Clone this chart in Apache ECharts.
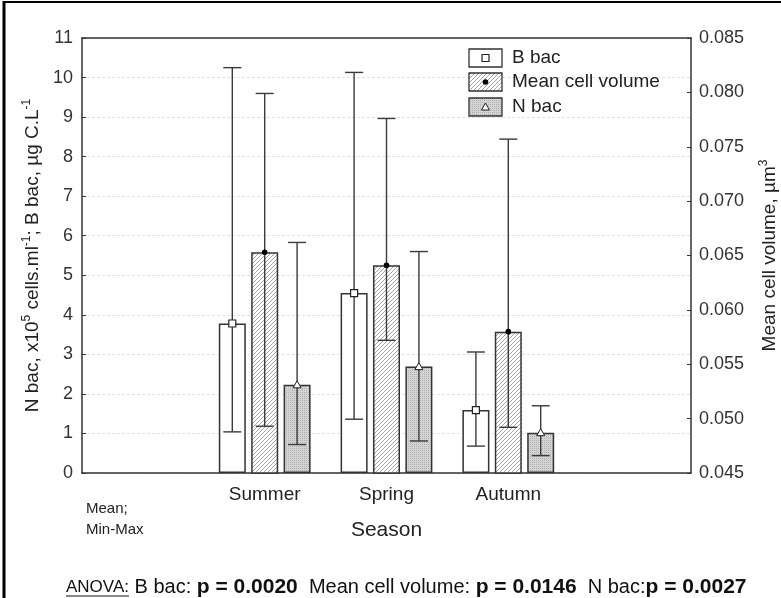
<!DOCTYPE html>
<html>
<head>
<meta charset="utf-8">
<script src="https://cdn.jsdelivr.net/npm/echarts@6/dist/echarts.min.js"></script>
<style>
  html, body { margin: 0; padding: 0; background: #fff; }
  #chart { width: 781px; height: 598px; }
</style>
</head>
<body>
<div id="chart"></div>
<script>
// Seasons on the category axis (empty slots pad both ends)
const seasons = ['', 'Summer', 'Spring', 'Autumn', ''];

// Bacterial biomass, µg C/L
const bBacMean = [null, 3.78, 4.55, 1.59, null];
const bBacMin  = [null, 1.04, 1.36, 0.68, null];
const bBacMax  = [null, 10.25, 10.13, 3.06, null];

// Mean cell volume, µm³
const volMean = [null, 0.0653, 0.0641, 0.0580, null];
const volMin  = [null, 0.0493, 0.0572, 0.0492, null];
const volMax  = [null, 0.0799, 0.0776, 0.0757, null];

// Bacterial abundance, x10^5 cells/ml
const nBacMean = [null, 2.23, 2.69, 1.02, null];
const nBacMin  = [null, 0.72, 0.81, 0.44, null];
const nBacMax  = [null, 5.83, 5.60, 1.70, null];

const seriesNames = ['B bac', 'Mean cell volume', 'N bac'];
const anovaP = ['0.0020', '0.0146', '0.0027'];

const FONT = '"Liberation Sans", Arial, sans-serif';
const INK = '#333';

// Fill textures: diagonal hatch and grey stipple
function makePattern(size, painter) {
  const c = document.createElement('canvas');
  c.width = size; c.height = size;
  const ctx = c.getContext('2d');
  const img = ctx.createImageData(size, size);
  for (let y = 0; y < size; y++) {
    for (let x = 0; x < size; x++) {
      const v = painter(x, y);
      const k = (y * size + x) * 4;
      img.data[k] = v; img.data[k + 1] = v; img.data[k + 2] = v; img.data[k + 3] = 255;
    }
  }
  ctx.putImageData(img, 0, 0);
  return c;
}
const hatchCanvas = makePattern(4, (x, y) => ((x + y) % 4 === 3 ? 165 : 255));
const stippleCanvas = makePattern(4, (x, y) => ((x % 2 === 0 && y % 2 === 0) ? 176 : 212));
const hatchFill = { image: hatchCanvas, repeat: 'repeat' };
const stippleFill = { image: stippleCanvas, repeat: 'repeat' };

const BAR_W = 27;
const GAP = 5.4;
const offsets = [-(BAR_W + GAP), 0, BAR_W + GAP];

function markerShape(kind, x, y) {
  if (kind === 'square') {
    return { type: 'rect', shape: { x: x - 3.5, y: y - 3.5, width: 7, height: 7 },
      style: { fill: '#fff', stroke: '#222', lineWidth: 1.2 }, z2: 10 };
  }
  if (kind === 'dot') {
    return { type: 'circle', shape: { cx: x, cy: y, r: 2.8 },
      style: { fill: '#000' }, z2: 10 };
  }
  return { type: 'polygon', shape: { points: [[x, y - 4], [x + 4, y + 3], [x - 4, y + 3]] },
    style: { fill: '#fff', stroke: '#222', lineWidth: 1 }, z2: 10 };
}

function rangeSeries(name, minArr, maxArr, meanArr, yAxisIndex, offset, marker) {
  const data = [];
  seasons.forEach((s, i) => {
    if (meanArr[i] != null) data.push([i, minArr[i], maxArr[i], meanArr[i]]);
  });
  return {
    type: 'custom',
    name: name + ' range',
    yAxisIndex: yAxisIndex,
    z: 5,
    silent: true,
    encode: { x: 0, y: [1, 2, 3] },
    data: data,
    renderItem: function (params, api) {
      const i = api.value(0);
      const lo = api.coord([i, api.value(1)]);
      const hi = api.coord([i, api.value(2)]);
      const mid = api.coord([i, api.value(3)]);
      const x = lo[0] + offset;
      const cap = 9;
      const ls = { stroke: '#3a3a3a', lineWidth: 1.4 };
      return {
        type: 'group',
        children: [
          { type: 'line', shape: { x1: x, y1: hi[1], x2: x, y2: lo[1] }, style: ls },
          { type: 'line', shape: { x1: x - cap, y1: hi[1], x2: x + cap, y2: hi[1] }, style: ls },
          { type: 'line', shape: { x1: x - cap, y1: lo[1], x2: x + cap, y2: lo[1] }, style: ls },
          markerShape(marker, x, mid[1])
        ]
      };
    }
  };
}

const barBorder = { borderColor: INK, borderWidth: 1.5 };

const chart = echarts.init(document.getElementById('chart'), null, { renderer: 'canvas' });

// Text width for the underlined lead-in of the footnote
const measureCtx = document.createElement('canvas').getContext('2d');
measureCtx.font = '17px ' + FONT;
const anovaLabelW = measureCtx.measureText('ANOVA:').width;

const legendX = 469, legendRows = [58, 82, 107];
const legendFills = ['#fff', hatchFill, stippleFill];
const legendMarkers = ['square', 'dot', 'triangle'];
const legendGraphics = [];
seriesNames.forEach((n, k) => {
  const cy = legendRows[k];
  legendGraphics.push({
    type: 'rect', shape: { x: legendX, y: cy - 9, width: 33, height: 18 },
    style: { fill: legendFills[k], stroke: INK, lineWidth: 1.3 }, z: 20
  });
  const m = markerShape(legendMarkers[k], legendX + 16.5, cy);
  m.z = 21;
  legendGraphics.push(m);
  legendGraphics.push({
    type: 'text', x: 512, y: cy, z: 21,
    style: { text: n, font: '19px ' + FONT, fill: '#222', verticalAlign: 'middle' }
  });
});

const option = {
  animation: false,
  backgroundColor: '#fff',
  grid: { left: 82, right: 90, top: 38, bottom: 125, containLabel: false, outerBoundsMode: 'none' },
  xAxis: [
    {
      type: 'category', data: seasons, position: 'bottom',
      name: 'Season', nameLocation: 'middle', nameGap: 47,
      nameTextStyle: { fontFamily: FONT, fontSize: 21, color: '#222' },
      axisLine: { lineStyle: { color: INK, width: 1.5 } },
      axisTick: { inside: true, alignWithLabel: true, length: 4, lineStyle: { color: INK } },
      axisLabel: { interval: 0, fontFamily: FONT, fontSize: 19, color: '#222', margin: 12 },
      splitLine: { show: false }
    },
    {
      type: 'category', data: seasons, position: 'top',
      axisLine: { lineStyle: { color: INK, width: 1.5 } },
      axisTick: { inside: true, alignWithLabel: true, length: 4, lineStyle: { color: INK } },
      axisLabel: { show: false },
      splitLine: { show: false }
    }
  ],
  yAxis: [
    {
      type: 'value', position: 'left', min: 0, max: 11, interval: 1,
      name: '{t|N bac, x10}{s|5}{t| cells.ml}{s|-1}{t|; B bac, µg C.L}{s|-1}',
      nameLocation: 'middle', nameGap: 37, nameRotate: 90,
      nameTextStyle: {
        rich: {
          t: { fontFamily: FONT, fontSize: 19, color: '#222', lineHeight: 24 },
          s: { fontFamily: FONT, fontSize: 12, color: '#222', lineHeight: 12, verticalAlign: 'top' }
        }
      },
      axisLine: { show: true, lineStyle: { color: INK, width: 1.5 } },
      axisTick: { show: true, inside: true, length: 4, lineStyle: { color: INK } },
      axisLabel: { fontFamily: FONT, fontSize: 18, color: INK, margin: 9 },
      splitLine: { show: true, lineStyle: { color: '#e2e2e2', width: 1, type: [3, 2] } }
    },
    {
      type: 'value', position: 'right', min: 0.045, max: 0.085, interval: 0.005,
      name: '{t|Mean cell volume, µm}{s|3}',
      nameLocation: 'middle', nameGap: 67, nameRotate: 90,
      nameTextStyle: {
        rich: {
          t: { fontFamily: FONT, fontSize: 19, color: '#222', lineHeight: 24 },
          s: { fontFamily: FONT, fontSize: 12, color: '#222', lineHeight: 12, verticalAlign: 'top' }
        }
      },
      axisLine: { show: true, lineStyle: { color: INK, width: 1.5 } },
      axisTick: { show: true, inside: true, length: 4, lineStyle: { color: INK } },
      axisLabel: { fontFamily: FONT, fontSize: 18, color: INK, margin: 8,
        formatter: v => v.toFixed(3) },
      splitLine: { show: false }
    }
  ],
  series: [
    {
      type: 'bar', name: seriesNames[0], yAxisIndex: 0, data: bBacMean,
      barWidth: BAR_W, barGap: '20%',
      itemStyle: Object.assign({ color: '#fff' }, barBorder)
    },
    {
      type: 'bar', name: seriesNames[1], yAxisIndex: 1, data: volMean,
      barWidth: BAR_W, barGap: '20%',
      itemStyle: Object.assign({ color: hatchFill }, barBorder)
    },
    {
      type: 'bar', name: seriesNames[2], yAxisIndex: 0, data: nBacMean,
      barWidth: BAR_W, barGap: '20%',
      itemStyle: Object.assign({ color: stippleFill }, barBorder)
    },
    rangeSeries(seriesNames[0], bBacMin, bBacMax, bBacMean, 0, offsets[0], 'square'),
    rangeSeries(seriesNames[1], volMin, volMax, volMean, 1, offsets[1], 'dot'),
    rangeSeries(seriesNames[2], nBacMin, nBacMax, nBacMean, 0, offsets[2], 'triangle')
  ],
  graphic: [
    // page frame
    { type: 'line', shape: { x1: 4, y1: 2, x2: 781, y2: 2 }, style: { stroke: '#000', lineWidth: 2 } },
    { type: 'line', shape: { x1: 4, y1: 1, x2: 4, y2: 598 }, style: { stroke: '#000', lineWidth: 3 } },
    // statistic caption
    { type: 'text', x: 86, y: 509,
      style: { text: 'Mean;', font: '15px ' + FONT, fill: '#222', verticalAlign: 'middle' } },
    { type: 'text', x: 86, y: 530,
      style: { text: 'Min-Max', font: '15px ' + FONT, fill: '#222', verticalAlign: 'middle' } },
    // ANOVA footnote
    { type: 'text', x: 66, y: 587,
      style: {
        text: '{a|ANOVA:}{n| B bac: }{b|p = ' + anovaP[0] + '}{n|  Mean cell volume: }{b|p = ' + anovaP[1] +
              '}{n|  N bac:}{b|p = ' + anovaP[2] + '}',
        verticalAlign: 'middle',
        rich: {
          a: { font: '17px ' + FONT, fill: '#111' },
          n: { font: '20px ' + FONT, fill: '#111' },
          b: { font: 'bold 21px ' + FONT, fill: '#111' }
        }
      } },
    { type: 'line', shape: { x1: 66, y1: 596, x2: 66 + anovaLabelW, y2: 596 },
      style: { stroke: '#111', lineWidth: 1.2 } }
  ].concat(legendGraphics)
};

chart.setOption(option);
</script>
</body>
</html>
